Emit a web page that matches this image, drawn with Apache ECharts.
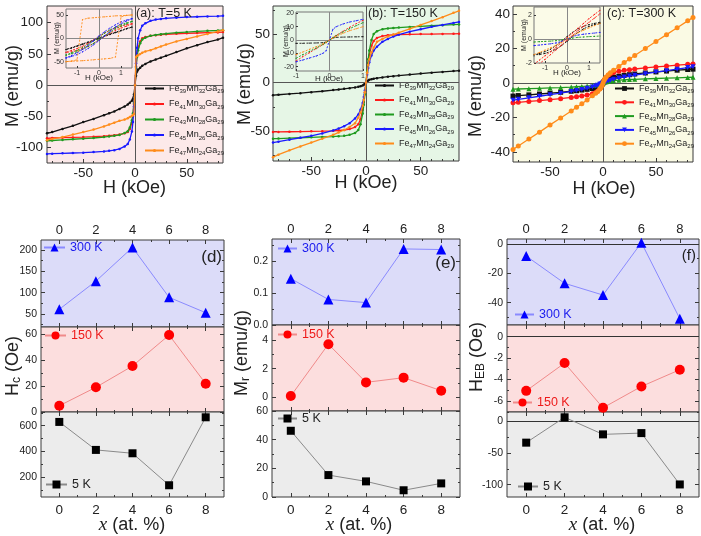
<!DOCTYPE html>
<html>
<head>
<meta charset="utf-8">
<script src="https://cdn.jsdelivr.net/npm/echarts@6.0.0/dist/echarts.min.js"></script>
<style>
html,body{margin:0;padding:0;background:#ffffff;}
#chart{width:701px;height:536px;}
</style>
</head>
<body>
<div id="chart"></div>
<script>
// ================= DATA =================
const alloys = ['Fe39Mn32Ga29','Fe41Mn30Ga29','Fe43Mn28Ga29','Fe45Mn26Ga29','Fe47Mn24Ga29'];
const H_kOe = [-85,-80,-70,-60,-50,-40,-30,-25,-20,-15,-10,-7,-5,-3,-2,-1,0,1,2,3,5,7,10,15,20,25,30,40,50,60,70,80,85];

// (a) T = 5 K, M (emu/g)
const a_x0 = [-77,-75,-70,-65,-59,-54,-48,-45,-42,-38,-34,-31,-28,-25,-22,-15,0,15,22,25,28,31,34,38,41,44,47,53,59,64,69,73,76];
const a_x2 = [-85,-84.5,-84,-83.5,-83,-82.3,-81.5,-80.8,-80,-79,-77,-75,-70,-60,-50,-30,0,30,50,60,70,75,77,79,80,80.8,81.5,82.3,83,83.5,84,84.5,85];
const a_x4 = [-89,-88.5,-87.5,-86.5,-85.5,-84.5,-83,-82,-81,-79.5,-76.5,-73.5,-67.5,-56,-45,-28,0,28,45,56,67,73,76,79,80.5,81.5,82.5,84,85,86,87,87.5,88];
const a_x6 = [-110,-109.5,-109,-108.5,-108,-107,-106,-105,-104,-102,-98,-94,-87,-74,-59,-34,0,35,60,75,88,95,99,103,105,106,107,108,109,109.5,110,110.5,111];
const a_x8 = [-88,-86,-83,-79,-75,-71,-66,-63,-60,-57,-55,-53,-51,-49,-48,-46,0,45,47,48,50,52,54,56,59,62,65,70,74,78,82,86,88];

// (b) T = 150 K
const b_x0 = [-13,-12.6,-11.8,-11,-10,-9,-7.8,-7.2,-6.5,-5.8,-5,-4.4,-3.8,-3,-2.2,-1.1,0,1,2,2.8,3.5,4,4.5,5.3,6,6.6,7.2,8.2,9.2,10.2,11,11.8,12.2];
const b_x2 = [-51,-51,-50.8,-50.6,-50.4,-50.2,-49.8,-49.5,-49,-48,-46,-43,-38,-28,-20,-10,0,10,20,28,38,43,46,48,48.8,49.2,49.5,49.8,50,50,50.2,50.3,50.4];
const b_x4 = [-58,-57.8,-57.4,-57,-56.6,-56.2,-55.8,-55.4,-55,-54,-52,-49,-43,-32,-23,-12,0,12,24,33,44,50,53,55,55.8,56.3,56.7,57.4,58,58.6,59.2,59.8,60];
const b_x6 = [-62,-61,-59,-57,-55,-52.5,-49.5,-47.5,-45,-42,-37,-33,-28,-21,-15,-8,0,8,15,21,28,33,37,42,45,47.5,49.5,52.5,55,57.5,59.5,61.5,62.5];
const b_x8 = [-77,-74.5,-70,-66,-62,-58,-54,-51.5,-49,-46,-42,-36,-31,-24,-18,-10,0,10,18,24,31,36,42,45,47.5,49.5,51.5,55.5,59.5,63.5,67.5,72,74];

// (c) T = 300 K
const c_x0 = [-7.6,-7.3,-6.9,-6.4,-5.9,-5.4,-4.8,-4.5,-4.1,-3.7,-3.2,-2.8,-2.4,-1.8,-1.4,-0.8,0,0.8,1.4,1.8,2.4,2.8,3.3,3.9,4.4,4.8,5.2,5.8,6.4,6.9,7.4,7.8,8];
const c_x2 = [-11.5,-11.2,-10.7,-10.2,-9.7,-9.1,-8.4,-8,-7.5,-7,-6.2,-5.5,-4.7,-3.3,-2.5,-1.5,0,1.4,2.4,3.2,4.5,5.3,6,6.8,7.3,7.7,8.1,8.7,9.3,9.8,10.3,10.8,11];
const c_x4 = [-3.6,-3.5,-3.3,-3.1,-2.9,-2.7,-2.4,-2.2,-2,-1.8,-1.5,-1.2,-1,-0.7,-0.5,-0.3,0,0.3,0.5,0.7,0.9,1.1,1.3,1.6,1.8,2,2.1,2.4,2.6,2.8,3,3.2,3.3];
const c_x6 = [-10,-9.5,-8.6,-7.7,-6.8,-5.9,-4.9,-4.4,-3.8,-3.1,-2.3,-1.7,-1.3,-0.8,-0.6,-0.3,0,0.3,0.6,0.8,1.2,1.6,2.1,2.9,3.5,4,4.5,5.4,6.3,7.1,8,8.9,9.4];
const c_x8 = [-38.5,-36.5,-32.5,-28.5,-24.3,-20.3,-16.2,-14.1,-12,-9.8,-7.4,-6,-4.9,-3.5,-2.6,-1.5,0,1.5,2.6,3.4,4.8,5.9,7.3,9.6,11.8,13.9,15.9,20,24,28,32,36,38];

// insets: low-field loops (upper = descending branch, lower = ascending branch)
const Hin_a = [-1.5,-1.25,-1,-0.75,-0.5,-0.25,0,0.25,0.5,0.75,1,1.25,1.5];
const ia_x0_up = [-24,-20,-16,-12,-8,-4,1,5,9,13,17,21,24];
const ia_x0_dn = [-24,-21,-17,-13,-9,-5,-1,4,8,12,16,20,24];
const ia_x2_up = [-30,-26,-22,-17,-11,-4,4,11,17,22,26,29,31];
const ia_x2_dn = [-30,-29,-26,-22,-17,-11,-4,4,11,17,22,26,31];
const ia_x4_up = [-36,-31,-26,-20,-13,-5,3,11,18,24,29,33,36];
const ia_x4_dn = [-36,-33,-29,-24,-18,-11,-3,5,13,20,26,31,36];
const ia_x6_up = [-42,-37,-31,-24,-15,-5,5,14,22,29,35,39,42];
const ia_x6_dn = [-42,-39,-35,-29,-22,-14,-5,5,15,24,31,37,42];
const ia_x8_up = [-50,-49,-46,40,43,44,45,46,47,48,48.5,49,50];
const ia_x8_dn = [-50,-49,-48.5,-48,-47,-46,-45,-44,-43,-40,46,49,50];

const Hin_b = [-1,-0.8,-0.6,-0.4,-0.2,-0.1,0,0.1,0.2,0.4,0.6,0.8,1];
const ib_x0 = [-2.5,-2.4,-2.3,-2.2,-2,-1.6,0,1.6,2,2.2,2.3,2.4,2.5];
const ib_x2 = [-15.8,-12.5,-9.5,-6.5,-3.5,-2,0,2,3.5,6.5,9.5,12.3,14.8];
const ib_x4 = [-13.7,-11,-8.5,-6,-3.3,-1.8,0,1.8,3.3,6,8.5,10.8,13];
const ib_x6 = [-16.3,-15,-13.5,-12,-10,-8,0,8,10,12,13.5,14.5,15.5];
const ib_x8 = [-11,-9,-7,-5,-2.8,-1.5,0,1.5,2.8,5,7,8.5,10];

const Hin_c = [-1.5,-1.25,-1,-0.75,-0.5,-0.25,0,0.25,0.5,0.75,1,1.25,1.5];
const ic_x0_up = [-1.3,-1.2,-1.05,-0.85,-0.55,-0.2,0.2,0.55,0.85,1.05,1.2,1.3,1.4];
const ic_x0_dn = [-1.4,-1.3,-1.2,-1.05,-0.85,-0.55,-0.2,0.2,0.55,0.85,1.05,1.2,1.3];
const ic_x2_up = [-2.1,-1.75,-1.4,-1.05,-0.7,-0.3,0.1,0.5,0.9,1.3,1.7,2.05,2.4];
const ic_x2_dn = [-2.4,-2.05,-1.7,-1.3,-0.9,-0.5,-0.1,0.3,0.7,1.05,1.4,1.75,2.1];
const ic_x4 = [-0.25,-0.22,-0.2,-0.17,-0.14,-0.08,0,0.08,0.14,0.17,0.2,0.22,0.25];
const ic_x6 = [-0.55,-0.5,-0.45,-0.4,-0.33,-0.2,0,0.2,0.33,0.4,0.45,0.5,0.55];
const ic_x8 = [-1.3,-1.12,-0.93,-0.74,-0.52,-0.27,0,0.27,0.52,0.74,0.93,1.12,1.3];

// bottom row: composition x (at. %)
const x_at = [0,2,4,6,8];
const Hc_300K = [61,127,206,89,53];
const Hc_150K = [4.8,19,35.4,59.2,21.8];
const Hc_5K = [629,412,386,138,665];
const Mr_300K = [0.145,0.08,0.07,0.238,0.236];
const Mr_150K = [0.09,3.71,1.04,1.37,0.46];
const Mr_5K = [46.2,15.3,10.9,4.7,9.5];
const HEB_300K = [-8.2,-26.8,-34.8,0.9,-50.9];
const HEB_150K = [-5.05,-2.46,-6.63,-4.64,-3.08];
const HEB_5K = [-34,5.8,-21,-19,-99.6];

// tick labels
const tick_H = [-50,0,50];
const tick_Ma = [-100,-50,0,50,100];
const tick_Mb = [-50,0,50];
const tick_Mc = [-40,-20,0,20,40];
const tick_in_x = [-1,0,1];
const tick_ia_y = [-50,0,50];
const tick_ib_y = [-20,-10,0,10,20];
const tick_ic_y = [-2,0,2];
const tick_x = [0,2,4,6,8];
const tick_Hc300 = [50,100,150,200];
const tick_Hc150 = [0,20,40,60];
const tick_Hc5 = [200,400,600];
const tick_Mr300 = [0,0.1,0.2];
const tick_Mr150 = [0,2,4];
const tick_Mr5 = [0,20,40,60];
const tick_HEB300 = [-40,-20,0];
const tick_HEB150 = [-6,-4,-2,0];
const tick_HEB5 = [-100,-50,0];

// ================= BUILD =================
const FONT = 'Liberation Sans, Arial, sans-serif';
const AXC = '#3a3a3a';
const COL = ['#111111','#ff1a1a','#1f9a1f','#1a1aff','#ff8c1a'];
const grid=[], xAxis=[], yAxis=[], series=[], legend=[], graphic=[];

function inRange(arr,min,max){return (arr||[]).filter(v=>v>=min-1e-9&&v<=max+1e-9);}
function axis(gi,pos,min,max,ticks,len,labels,lab){
  const t=inRange(ticks,min,max);
  const o={type:'value',gridIndex:gi,position:pos,min:min,max:max,
    axisLine:{show:false,onZero:false},splitLine:{show:false},
    axisTick:{show:t.length>0,inside:true,length:len,customValues:t,lineStyle:{color:AXC,width:1}},
    axisLabel:{show:false}};
  if(labels){
    o.axisLabel=Object.assign({show:true,customValues:inRange(labels,min,max),color:'#222',fontFamily:FONT,fontSize:12,margin:4},lab||{});
  }
  return o;
}
function panel(r,bg,X,Y,bc){
  const g=grid.length;
  grid.push({left:r[0],top:r[1],width:r[2],height:r[3],show:true,backgroundColor:bg,borderColor:bc||AXC,borderWidth:1});
  const g2=grid.length;
  grid.push({left:r[0],top:r[1],width:r[2],height:r[3],show:false});
  const xi=xAxis.length;
  xAxis.push(axis(g,'bottom',X.min,X.max,X.major,X.len||4,X.bottomLabels?X.major:null,X.lab));
  xAxis.push(axis(g,'top',X.min,X.max,X.mirror?X.major:[],X.len||4,X.topLabels?X.major:null,X.labTop));
  xAxis.push(axis(g2,'bottom',X.min,X.max,X.minor,2,null));
  xAxis.push(axis(g2,'top',X.min,X.max,X.mirror?X.minor:[],2,null));
  const yi=yAxis.length;
  yAxis.push(axis(g,'left',Y.min,Y.max,Y.major,Y.len||4,Y.major,Y.lab));
  yAxis.push(axis(g,'right',Y.min,Y.max,Y.mirror?Y.major:[],Y.len||4,null));
  yAxis.push(axis(g2,'left',Y.min,Y.max,Y.minor,2,null));
  yAxis.push(axis(g2,'right',Y.min,Y.max,Y.mirror?Y.minor:[],2,null));
  return {xi,yi};
}
function pairs(H,M){return H.map((h,i)=>[h,M[i]]);}
function loop(H,up,dn){const d=[];for(let i=H.length-1;i>=0;i--)d.push([H[i],up[i]]);for(let i=0;i<H.length;i++)d.push([H[i],dn[i]]);return d;}
function zeroLines(color){return {silent:true,symbol:['none','none'],label:{show:false},animation:false,lineStyle:{color:color||'#555',width:1,type:'solid'},data:[{xAxis:0},{yAxis:0}]};}
function richName(s){return s.replace(/([A-Za-z]+)(\d+)/g,'{n|$1}{s|$2}');}

// ---- top row main panels ----
const xMain = {min:-85,max:85,major:tick_H,minor:[-80,-70,-60,-40,-30,-20,-10,10,20,30,40,60,70,80],bottomLabels:true,lab:{fontSize:13.5,margin:3}};
const PA = panel([47,6,176,157],'#fce9e9',xMain,{min:-124.5,max:126.7,major:tick_Ma,minor:[-75,-25,25,75],lab:{fontSize:13.5,margin:4}});
const PB = panel([273,6,186,155],'#e6f6e6',xMain,{min:-81,max:79,major:tick_Mb,minor:[-75,-25,25,75],lab:{fontSize:13.5,margin:3}});
const PC = panel([513,6,180,156],'#fafae4',xMain,{min:-45.8,max:44.6,major:tick_Mc,minor:[-30,-10,10,30],lab:{fontSize:13.5,margin:3}});

const setA=[a_x0,a_x2,a_x4,a_x6,a_x8], setB=[b_x0,b_x2,b_x4,b_x6,b_x8], setC=[c_x0,c_x2,c_x4,c_x6,c_x8];
const symC=['rect','circle','triangle','triangle','circle'];
const rotC=[0,0,0,180,0];
[[PA,setA,'a'],[PB,setB,'b'],[PC,setC,'c']].forEach(([P,set,k])=>{
  set.forEach((M,i)=>{
    const s={type:'line',name:k+i,xAxisIndex:P.xi,yAxisIndex:P.yi,data:pairs(H_kOe,M),
      symbol:k==='c'?symC[i]:'circle',symbolSize:k==='c'?5:2.5,symbolRotate:k==='c'?rotC[i]:0,showSymbol:true,
      lineStyle:{color:COL[i],width:1.3},itemStyle:{color:COL[i]},z:3+i};
    if(i===0) s.markLine=zeroLines('#555');
    series.push(s);
  });
});
const legPos={a:[144,84,5],b:[374,81,4],c:[614,84,3.3]};
['a','b','c'].forEach(k=>{
  legend.push({show:true,selectedMode:false,orient:'vertical',left:legPos[k][0],top:legPos[k][1],itemGap:legPos[k][2],
    itemWidth:19,itemHeight:k==='c'?6:4,padding:0,data:[0,1,2,3,4].map(i=>k+i),
    formatter:n=>richName(alloys[+n.slice(1)]),
    textStyle:{fontFamily:FONT,rich:{n:{fontSize:9,color:'#222',fontFamily:FONT},s:{fontSize:6,color:'#222',fontFamily:FONT,padding:[6,0,0,0]}}}});
});

// ---- insets ----
const inLab={fontSize:7,margin:2,color:'#333'};
const IA = panel([66,9,66,59],'#fcecec',{min:-1.5,max:1.5,major:tick_in_x,len:2,bottomLabels:true,lab:inLab},{min:-63.6,max:62.7,major:tick_ia_y,len:2,lab:inLab},'#777');
const IB = panel([296,12,67,59],'#e9f7e9',{min:-1,max:1,major:tick_in_x,len:2,bottomLabels:true,lab:inLab},{min:-23.2,max:21,major:tick_ib_y,len:2,lab:inLab},'#777');
const IC = panel([534,7,66,56],'#fbfbe8',{min:-1.5,max:1.5,major:tick_in_x,len:2,bottomLabels:true,lab:inLab},{min:-2.0,max:2.67,major:tick_ic_y,len:2,lab:inLab},'#777');
const inA=[loop(Hin_a,ia_x0_up,ia_x0_dn),loop(Hin_a,ia_x2_up,ia_x2_dn),loop(Hin_a,ia_x4_up,ia_x4_dn),loop(Hin_a,ia_x6_up,ia_x6_dn),loop(Hin_a,ia_x8_up,ia_x8_dn)];
const inB=[pairs(Hin_b,ib_x0),pairs(Hin_b,ib_x2),pairs(Hin_b,ib_x4),pairs(Hin_b,ib_x6),pairs(Hin_b,ib_x8)];
const inC=[loop(Hin_c,ic_x0_up,ic_x0_dn),loop(Hin_c,ic_x2_up,ic_x2_dn),pairs(Hin_c,ic_x4),pairs(Hin_c,ic_x6),pairs(Hin_c,ic_x8)];
[[IA,inA],[IB,inB],[IC,inC]].forEach(([P,set],j)=>{
  set.forEach((d,i)=>{
    const s={type:'line',name:'in'+j+'_'+i,xAxisIndex:P.xi,yAxisIndex:P.yi,data:d,symbol:'circle',symbolSize:1.2,showSymbol:true,
      lineStyle:{color:COL[i],width:0.9,type:[2,1.5]},itemStyle:{color:COL[i]},z:10+i};
    if(i===0) s.markLine=zeroLines('#888');
    series.push(s);
  });
});

// ---- bottom row ----
const BG=['#dcdcf9','#fcdede','#ececec'];
function xB(pos){return {min:-1,max:9,major:tick_x,minor:[1,3,5,7],mirror:true,
  topLabels:pos==='top',bottomLabels:pos==='bottom',lab:{fontSize:13.5,margin:6},labTop:{fontSize:13,margin:3}};}
const yl={fontSize:10.5,margin:4,color:'#222'};
const D1=panel([41,240,183,87],BG[0],xB('top'),{min:19.5,max:223.4,major:tick_Hc300,minor:[25,75,125,175],mirror:true,lab:yl});
const D2=panel([41,327,183,85],BG[1],xB('mid'),{min:0,max:65.4,major:tick_Hc150,minor:[10,30,50],mirror:true,lab:yl});
const D3=panel([41,412,183,85],BG[2],xB('bottom'),{min:47,max:706,major:tick_Hc5,minor:[100,300,500,700],mirror:true,lab:yl});
const E1=panel([272,239,188,86],BG[0],xB('top'),{min:0,max:0.269,major:tick_Mr300,minor:[0.05,0.15,0.25],mirror:true,lab:Object.assign({formatter:v=>v.toFixed(1)},yl)});
const E2=panel([272,325,188,86],BG[1],xB('mid'),{min:-0.96,max:5.05,major:tick_Mr150,minor:[1,3,5],mirror:true,lab:yl});
const E3=panel([272,411,188,86],BG[2],xB('bottom'),{min:0,max:60,major:tick_Mr5,minor:[10,30,50],mirror:true,lab:yl});
const F1=panel([507,239,192,86],BG[0],xB('top'),{min:-55.2,max:3.4,major:tick_HEB300,minor:[-10,-30,-50],mirror:true,lab:yl});
const F2=panel([507,325,192,87],BG[1],xB('mid'),{min:-7.02,max:1.09,major:tick_HEB150,minor:[-1,-3,-5,-7],mirror:true,lab:yl});
const F3=panel([507,412,192,85],BG[2],xB('bottom'),{min:-119.3,max:14.1,major:tick_HEB5,minor:[-25,-75],mirror:true,lab:yl});

const styles={
  '300':{symbol:'triangle',size:10,color:'#0000ff',line:'#8a8aff',text:'#1a1aee'},
  '150':{symbol:'circle',size:10,color:'#ff0000',line:'#f08a8a',text:'#ee1a1a'},
  '5':{symbol:'rect',size:8,color:'#000000',line:'#8a8a8a',text:'#222222'}
};
const bottomSets=[
  [D1,Hc_300K,'300','d300',[43,241,21]],[D2,Hc_150K,'150','d150',[44,329,21]],[D3,Hc_5K,'5','d5',[45,478,21]],
  [E1,Mr_300K,'300','e300',[277,242,19]],[E2,Mr_150K,'150','e150',[277,328,19]],[E3,Mr_5K,'5','e5',[277,412,19]],
  [F1,HEB_300K,'300','f300',[514,308,19]],[F2,HEB_150K,'150','f150',[512,396,19]],[F3,HEB_5K,'5','f5',[517,480,20]]
];
bottomSets.forEach(([P,vals,T,name,lp])=>{
  const st=styles[T];
  const s={type:'line',name:name,xAxisIndex:P.xi,yAxisIndex:P.yi,data:pairs(x_at,vals),symbol:st.symbol,symbolSize:st.size,
    lineStyle:{color:st.line,width:1},itemStyle:{color:st.color},z:5};
  if(name[0]==='f') s.markLine={silent:true,symbol:['none','none'],label:{show:false},animation:false,lineStyle:{color:'#333',width:1,type:'solid'},data:[{yAxis:0}]};
  series.push(s);
  legend.push({show:true,selectedMode:false,left:lp[0],top:lp[1],itemWidth:lp[2],itemHeight:10,padding:0,data:[name],
    formatter:()=>T+' K',textStyle:{color:st.text,fontSize:12.5,fontFamily:FONT}});
});

// ---- texts ----
function txt(x,y,text,o){graphic.push(Object.assign({type:'text',x:x,y:y,silent:true,z:100,style:Object.assign({text:text,fill:'#222',fontFamily:FONT,fontSize:13,align:'left',verticalAlign:'middle'},o&&o.style||{})},o&&o.el||{}));}
txt(136,14,'(a): T=5 K',{style:{fontSize:12.5}});
txt(368,14,'(b): T=150 K',{style:{fontSize:12.5}});
txt(607,14,'(c): T=300 K',{style:{fontSize:12.5}});
const ROT=Math.PI/2;
txt(13,86,'M (emu/g)',{style:{fontSize:18,align:'center'},el:{rotation:ROT}});
txt(245,84,'M (emu/g)',{style:{fontSize:18,align:'center'},el:{rotation:ROT}});
txt(476,96,'M (emu/g)',{style:{fontSize:18,align:'center'},el:{rotation:ROT}});
txt(134.5,188,'H (kOe)',{style:{fontSize:18,align:'center'}});
txt(366,183,'H (kOe)',{style:{fontSize:18,align:'center'}});
txt(604,189,'H (kOe)',{style:{fontSize:18,align:'center'}});
// insets axis names
txt(57,38,'M (emu/g)',{style:{fontSize:7,align:'center'},el:{rotation:ROT}});
txt(99,78,'H (kOe)',{style:{fontSize:8,align:'center'}});
txt(286,41,'M (emu/g)',{style:{fontSize:7,align:'center'},el:{rotation:ROT}});
txt(329,79,'H (kOe)',{style:{fontSize:8,align:'center'}});
txt(524,35,'M (emu/g)',{style:{fontSize:7,align:'center'},el:{rotation:ROT}});
txt(567,73,'H (kOe)',{style:{fontSize:8,align:'center'}});
// bottom row
txt(222,257,'(d)',{style:{fontSize:17,align:'right'}});
txt(456,263,'(e)',{style:{fontSize:17,align:'right'}});
txt(696,256,'(f)',{style:{fontSize:15,align:'right'}});
const richY={n:{fontSize:18,fontFamily:FONT,fill:'#222'},s:{fontSize:12,fontFamily:FONT,fill:'#222',padding:[8,0,0,0]}};
txt(13,366,'{n|H}{s|c}{n| (Oe)}',{style:{align:'center',rich:richY},el:{rotation:ROT}});
txt(242,353,'{n|M}{s|r}{n| (emu/g)}',{style:{align:'center',rich:richY},el:{rotation:ROT}});
txt(477,357,'{n|H}{s|EB}{n| (Oe)}',{style:{align:'center',rich:richY},el:{rotation:ROT}});
const richX={i:{fontSize:19,fontFamily:'Liberation Serif, Times New Roman, serif',fontStyle:'italic',fill:'#222'},n:{fontSize:18,fontFamily:FONT,fill:'#222'}};
txt(132,525,'{i|x}{n| (at. %)}',{style:{align:'center',rich:richX}});
txt(359,525,'{i|x}{n| (at. %)}',{style:{align:'center',rich:richX}});
txt(602,525,'{i|x}{n| (at. %)}',{style:{align:'center',rich:richX}});

const chart = echarts.init(document.getElementById('chart'), null, {renderer:'canvas', width:701, height:536});
chart.setOption({
  animation:false,
  backgroundColor:'#ffffff',
  textStyle:{fontFamily:FONT},
  grid:grid, xAxis:xAxis, yAxis:yAxis, series:series, legend:legend, graphic:graphic
});
</script>
</body>
</html>
